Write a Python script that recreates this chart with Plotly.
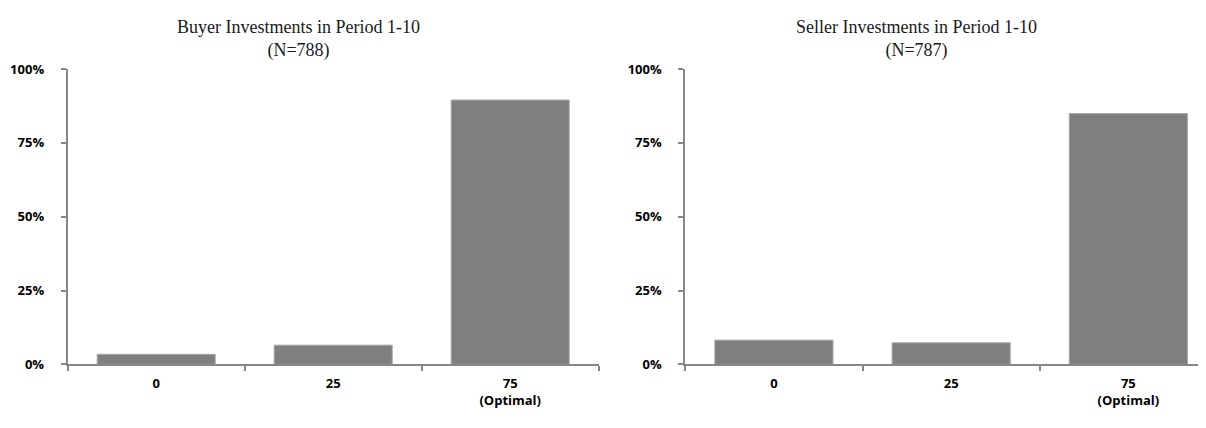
import plotly.graph_objects as go

W, H = 1206, 428
OFF = 8  # default page margin around the plot div

categories = ["0", "25", "75<br>(Optimal)"]
buyer_pct = [3.4, 6.5, 89.5]
seller_pct = [8.2, 7.3, 84.9]
buyer_title = "Buyer Investments in Period 1-10<br>(N=788)"
seller_title = "Seller Investments in Period 1-10<br>(N=787)"
y_ticks = [0, 25, 50, 75, 100]
y_labels = ["0%", "25%", "50%", "75%", "100%"]

BAR = "#7f7f7f"
EDGE = "#a6a6a6"
AX = "#878787"

def px(x):
    return (x - OFF) / W

def py(y):
    return (H - (y - OFF)) / H

fig = go.Figure()
fig.add_trace(go.Bar(x=categories, y=buyer_pct, xaxis="x", yaxis="y",
                     marker=dict(color=BAR, line=dict(color=EDGE, width=1)),
                     showlegend=False, hoverinfo="skip"))
fig.add_trace(go.Bar(x=categories, y=seller_pct, xaxis="x2", yaxis="y2",
                     marker=dict(color=BAR, line=dict(color=EDGE, width=1)),
                     showlegend=False, hoverinfo="skip"))

tickfont = dict(family="Open Sans", size=13, color="#000000", weight="bold")

xcommon = dict(type="category", showgrid=False, zeroline=False, showline=True,
               linecolor=AX, linewidth=2, ticks="outside", ticklen=5,
               tickcolor=AX, tickwidth=1.5, tickson="boundaries",
               tickfont=tickfont, ticklabelstandoff=6, fixedrange=True)
ycommon = dict(range=[0, 100], tickvals=y_ticks, ticktext=y_labels,
               showgrid=False, zeroline=False, showline=True, linecolor=AX,
               linewidth=2, ticks="outside", ticklen=5, tickcolor=AX,
               tickwidth=1.5, tickfont=tickfont, ticklabelstandoff=14,
               fixedrange=True)

ydom = [py(370.6), py(62.3)]

fig.update_layout(
    width=W, height=H,
    margin=dict(l=0, r=0, t=0, b=0),
    paper_bgcolor="white", plot_bgcolor="white",
    bargap=1/3,
    xaxis=dict(domain=[px(67.7), px(598.7)], range=[-0.5, 2.5],
               anchor="y", **xcommon),
    yaxis=dict(domain=ydom, anchor="x", **ycommon),
    xaxis2=dict(domain=[px(685.3), px(1206)], range=[-0.5, 2.438],
                anchor="y2", **xcommon),
    yaxis2=dict(domain=ydom, anchor="x2", **ycommon),
)

tfont = dict(family="Liberation Serif", size=18, color="#1a1a1a")
for cx, t in [(298, buyer_title), (916, seller_title)]:
    fig.add_annotation(x=px(cx), y=py(31), xref="paper", yref="paper",
                       text=t, showarrow=False, font=tfont,
                       xanchor="center", yanchor="middle")

fig.write_html("out.html")
